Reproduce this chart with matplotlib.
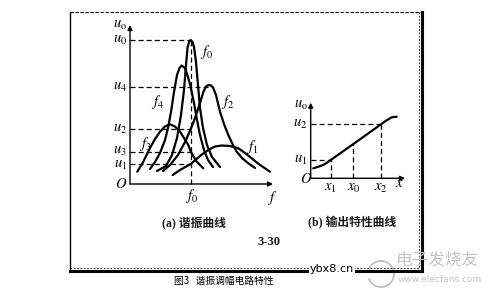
import matplotlib.pyplot as plt
from matplotlib.patches import Arc

plt.rcParams['mathtext.fontset'] = 'stix'
plt.rcParams['font.family'] = ['Noto Sans CJK SC', 'DejaVu Sans']

W, H = 497, 293
DPI = 100

# ---- panel (a): resonance curves, u_o vs f ----
f0 = 6.07
curve_f0_f = [2.7, 3.6, 4.2, 4.7, 5.1, 5.4, 5.6, 5.75, 5.9, 6.07, 6.25, 6.4, 6.6, 6.8, 7.0, 7.3, 7.7, 8.2, 9.0]
curve_f0_u = [1.3, 1.8, 2.9, 4.6, 6.9, 9.4, 11.9, 13.6, 14.2, 14.4, 14.2, 13.7, 12.2, 9.9, 7.6, 5.6, 3.9, 2.7, 1.7]
curve_f4_f = [2.0, 2.5, 3.0, 3.5, 3.8, 4.1, 4.4, 4.7, 4.95, 5.17, 5.5, 5.8, 6.07, 6.4, 6.7, 7.0, 7.4, 7.8, 8.3]
curve_f4_u = [1.5, 2.2, 3.1, 4.4, 5.6, 7.2, 9.2, 10.9, 11.6, 11.85, 11.6, 10.7, 9.7, 8.1, 6.4, 4.9, 3.4, 2.4, 1.7]
curve_f2_f = [3.3, 4.0, 4.8, 5.5, 6.07, 6.5, 7.0, 7.35, 7.6, 7.85, 8.1, 8.3, 8.6, 9.0, 9.4, 9.83, 10.3, 10.67, 11.2, 11.83, 12.5]
curve_f2_u = [1.3, 1.9, 2.9, 4.2, 5.47, 6.6, 8.1, 9.25, 9.75, 9.9, 9.85, 9.65, 8.9, 7.23, 6.0, 4.9, 3.9, 3.23, 2.6, 2.07, 1.6]
curve_f3_f = [0.73, 1.33, 2.0, 2.5, 3.0, 3.5, 4.0, 4.5, 5.0, 5.4, 5.83, 6.07, 6.67, 7.33]
curve_f3_u = [1.23, 2.23, 3.6, 4.5, 5.23, 5.75, 5.97, 5.75, 5.23, 4.6, 3.9, 3.23, 2.23, 1.57]
curve_f1_f = [4.27, 5.0, 6.07, 7.0, 7.83, 8.5, 9.17, 10.0, 10.83, 11.5, 12.17, 12.8, 13.5, 14.0]
curve_f1_u = [0.9, 1.4, 2.0, 2.8, 3.4, 3.75, 3.85, 3.8, 3.57, 3.1, 2.57, 2.05, 1.57, 1.23]

u_names = ['u_0', 'u_4', 'u_2', 'u_3', 'u_1']
u_values = [14.4, 9.73, 5.47, 3.23, 2.0]
u_dash_end = [6.07, 8.0, 6.0, 6.17, 6.17]

# ---- panel (b): output characteristic, u_o vs x ----
out_x = [0.26, 0.73, 1.26, 1.63, 2.0, 4.27, 7.03, 7.53, 8.1, 8.6]
out_u = [1.0, 1.15, 1.33, 1.57, 1.83, 3.43, 5.4, 5.76, 6.1, 6.16]
x_names = ['x_1', 'x_0', 'x_2']
x_values = [2.0, 4.27, 7.03]
x_u_values = [1.83, 3.43, 5.4]


def panel(ox, oy, xlim, ylim, scale=10.0):
    # place an axes so that data (0,0) sits at pixel (ox, oy), scale px per unit
    left = ox + xlim[0] * scale
    right = ox + xlim[1] * scale
    bottom = oy - ylim[0] * scale
    top = oy - ylim[1] * scale
    ax = fig.add_axes([left / W, (H - bottom) / H, (right - left) / W, (bottom - top) / H])
    ax.set_xlim(*xlim)
    ax.set_ylim(*ylim)
    ax.axis('off')
    return ax


def arrow_axes(ax, xmax, ymax):
    kw = dict(arrowstyle='-|>', lw=1.0, color='black', mutation_scale=7, shrinkA=0, shrinkB=0)
    ax.annotate('', xy=(xmax, 0), xytext=(0, 0), arrowprops=kw)
    ax.annotate('', xy=(0, ymax), xytext=(0, 0), arrowprops=kw)


fig = plt.figure(figsize=(W / DPI, H / DPI), dpi=DPI)
fig.patch.set_facecolor('white')

dash = dict(color='black', lw=0.9, linestyle=(0, (4, 2.5)))
lab = dict(fontsize=10.5, color='black')

# background layer in pixel coordinates: frame, captions, watermark
bg = fig.add_axes([0, 0, 1, 1])
bg.set_xlim(0, W)
bg.set_ylim(H, 0)
bg.axis('off')
bg.plot([70, 70], [12, 270], color='black', lw=1.0)
bg.plot([70, 421], [12, 12], color='black', lw=0.8, linestyle=(0, (3, 1.5)))
bg.plot([421.5, 421.5], [12, 271], color='black', lw=2.2)
bg.plot([419, 419], [12, 268], color='black', lw=0.6, linestyle=(0, (2, 2)))
bg.plot([70, 422], [270.5, 270.5], color='black', lw=2.2)
bg.plot([70, 419], [268, 268], color='black', lw=0.6, linestyle=(0, (2, 2)))

cap = dict(ha='center', va='center', fontsize=8.5, color='#1a1a1a', weight='bold',
           family=['Liberation Serif', 'Noto Sans CJK SC'])
bg.text(194, 223, '(a) 谐振曲线', **cap)
bg.text(352, 223, '(b) 输出特性曲线', **cap)
bg.text(269, 242, '3-30', ha='center', va='center', fontsize=9, weight='bold', color='#1a1a1a',
        family='Liberation Serif')
bg.text(224, 281, '图3   谐振调幅电路特性', ha='center', va='center', fontsize=7, color='black')
bg.text(332, 269, 'ybx8.cn', ha='center', va='center', fontsize=8, color='black', family='DejaVu Sans',
        bbox=dict(facecolor='white', edgecolor='none', pad=0.5))
bg.add_patch(Arc((381, 274), 26, 26, theta1=200, theta2=520, color='#bbbbbb', lw=1.2))
bg.text(437, 260, '电子发烧友', ha='center', va='center', fontsize=12, color='#c4c4c4', style='italic')
bg.text(440, 279, 'www.elecfans.com', ha='center', va='center', fontsize=6.5, color='#c4c4c4',
        family='DejaVu Sans')

# panel (a)
axa = panel(130, 184, (-3, 15), (-3, 17))
arrow_axes(axa, 14.3, 15.9)
nudge = [0, 0, 0, 0.12, -0.12]
for name, u, xe, dy in zip(u_names, u_values, u_dash_end, nudge):
    axa.plot([0, xe], [u, u], **dash)
    axa.text(-0.3, u + dy, '$%s$' % name, ha='right', va='center', **lab)
axa.plot([f0, f0], [0, u_values[0]], **dash)
curves = [(curve_f0_f, curve_f0_u), (curve_f4_f, curve_f4_u), (curve_f2_f, curve_f2_u),
          (curve_f3_f, curve_f3_u), (curve_f1_f, curve_f1_u)]
for cf, cu in curves:
    axa.plot(cf, cu, color='black', lw=1.6, solid_capstyle='round', solid_joinstyle='round')
axa.text(-0.3, 15.9, r'$u_\mathrm{o}$', ha='right', va='center', **lab)
axa.text(-0.85, 0, '$O$', ha='center', va='center', **lab)
axa.text(f0 + 0.1, -1.2, '$f_0$', ha='center', va='center', **lab)
axa.text(14.2, -1.4, '$f$', ha='center', va='center', **lab)
axa.text(7.67, 13.23, '$f_0$', ha='center', va='center', **lab)
axa.text(2.8, 8.23, '$f_4$', ha='center', va='center', **lab)
axa.text(9.8, 8.23, '$f_2$', ha='center', va='center', **lab)
axa.text(1.5, 4.0, '$f_3$', ha='center', va='center', **lab)
axa.text(12.17, 3.7, '$f_1$', ha='center', va='center', **lab)

# panel (b)
axb = panel(310.7, 178.3, (-2, 10), (-2, 8))
arrow_axes(axb, 9.43, 7.56)
axb.plot(out_x, out_u, color='black', lw=1.6, solid_capstyle='round')
for name, xv, uv in zip(x_names, x_values, x_u_values):
    axb.plot([xv, xv], [0, uv], **dash)
    axb.text(xv, -1.0, '$%s$' % name, ha='center', va='center', **lab)
axb.plot([0, x_values[0]], [x_u_values[0], x_u_values[0]], **dash)
axb.plot([0, x_values[2]], [x_u_values[2], x_u_values[2]], **dash)
axb.text(-0.3, x_u_values[2], '$u_2$', ha='right', va='center', **lab)
axb.text(-0.3, x_u_values[0], '$u_1$', ha='right', va='center', **lab)
axb.text(-0.3, 7.35, r'$u_\mathrm{o}$', ha='right', va='center', **lab)
axb.text(-0.45, -0.05, '$O$', ha='center', va='center', **lab)
axb.text(8.86, -0.5, '$x$', ha='center', va='center', **lab)

fig.savefig('out.png', dpi=DPI, facecolor='white')
